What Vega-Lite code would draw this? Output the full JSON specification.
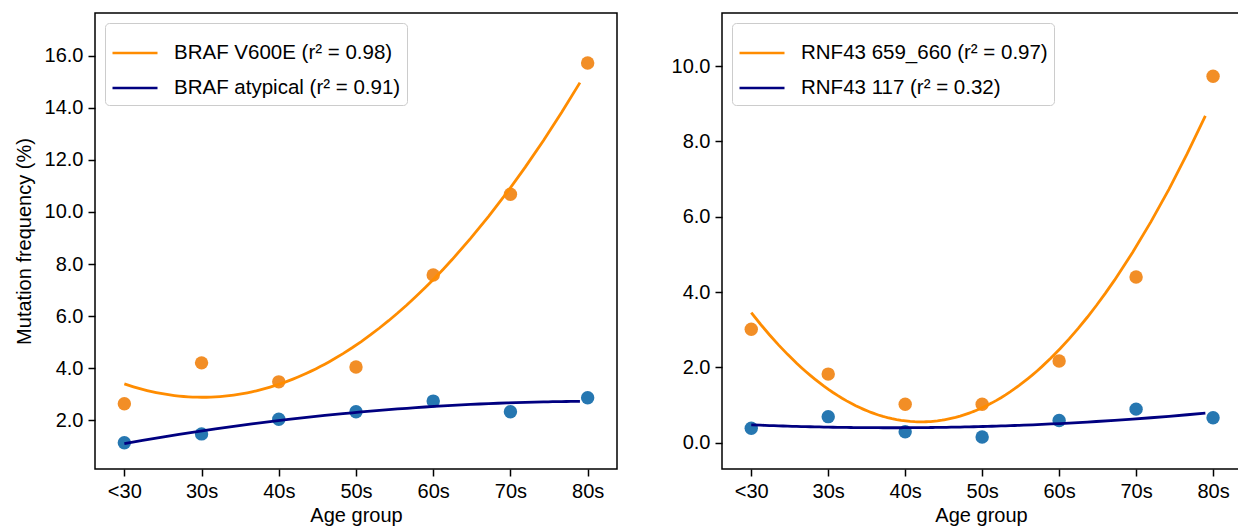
{
  "$schema": "https://vega.github.io/schema/vega-lite/v6.json",
  "padding": {"left": 13, "top": 12, "right": 0, "bottom": 0},
  "background": "white",
  "spacing": 52,
  "config": {
    "font": "Liberation Sans",
    "view": {"stroke": "black", "strokeWidth": 1.5},
    "axis": {
      "grid": false, "domain": false, "tickColor": "black", "tickWidth": 1.5, "tickSize": 7,
      "labelFontSize": 20, "labelColor": "black", "labelPadding": 5,
      "titleFontSize": 20, "titleFontWeight": "normal", "titleColor": "black"
    },
    "legend": {
      "orient": "top-left", "offset": 10, "padding": 6, "strokeColor": "#cccccc", "fillColor": "white",
      "cornerRadius": 4, "symbolType": "stroke", "symbolSize": 2025, "symbolStrokeWidth": 2.5,
      "labelFontSize": 20.5, "labelColor": "black", "labelLimit": 600, "labelOffset": 15, "rowPadding": 0,
      "title": null
    }
  },
  "datasets": {
    "braf": [
      {"age": "<30", "x": 0, "series": "BRAF V600E (r² = 0.98)", "freq": 2.63},
      {"age": "30s", "x": 1, "series": "BRAF V600E (r² = 0.98)", "freq": 4.2},
      {"age": "40s", "x": 2, "series": "BRAF V600E (r² = 0.98)", "freq": 3.47},
      {"age": "50s", "x": 3, "series": "BRAF V600E (r² = 0.98)", "freq": 4.04},
      {"age": "60s", "x": 4, "series": "BRAF V600E (r² = 0.98)", "freq": 7.58},
      {"age": "70s", "x": 5, "series": "BRAF V600E (r² = 0.98)", "freq": 10.68},
      {"age": "80s", "x": 6, "series": "BRAF V600E (r² = 0.98)", "freq": 15.73},
      {"age": "<30", "x": 0, "series": "BRAF atypical (r² = 0.91)", "freq": 1.13},
      {"age": "30s", "x": 1, "series": "BRAF atypical (r² = 0.91)", "freq": 1.47},
      {"age": "40s", "x": 2, "series": "BRAF atypical (r² = 0.91)", "freq": 2.03},
      {"age": "50s", "x": 3, "series": "BRAF atypical (r² = 0.91)", "freq": 2.32},
      {"age": "60s", "x": 4, "series": "BRAF atypical (r² = 0.91)", "freq": 2.73},
      {"age": "70s", "x": 5, "series": "BRAF atypical (r² = 0.91)", "freq": 2.32},
      {"age": "80s", "x": 6, "series": "BRAF atypical (r² = 0.91)", "freq": 2.86}
    ],
    "rnf43": [
      {"age": "<30", "x": 0, "series": "RNF43 659_660 (r² = 0.97)", "freq": 3.01},
      {"age": "30s", "x": 1, "series": "RNF43 659_660 (r² = 0.97)", "freq": 1.82},
      {"age": "40s", "x": 2, "series": "RNF43 659_660 (r² = 0.97)", "freq": 1.02},
      {"age": "50s", "x": 3, "series": "RNF43 659_660 (r² = 0.97)", "freq": 1.02},
      {"age": "60s", "x": 4, "series": "RNF43 659_660 (r² = 0.97)", "freq": 2.17},
      {"age": "70s", "x": 5, "series": "RNF43 659_660 (r² = 0.97)", "freq": 4.4},
      {"age": "80s", "x": 6, "series": "RNF43 659_660 (r² = 0.97)", "freq": 9.73},
      {"age": "<30", "x": 0, "series": "RNF43 117 (r² = 0.32)", "freq": 0.38},
      {"age": "30s", "x": 1, "series": "RNF43 117 (r² = 0.32)", "freq": 0.69},
      {"age": "40s", "x": 2, "series": "RNF43 117 (r² = 0.32)", "freq": 0.29},
      {"age": "50s", "x": 3, "series": "RNF43 117 (r² = 0.32)", "freq": 0.15},
      {"age": "60s", "x": 4, "series": "RNF43 117 (r² = 0.32)", "freq": 0.59},
      {"age": "70s", "x": 5, "series": "RNF43 117 (r² = 0.32)", "freq": 0.89},
      {"age": "80s", "x": 6, "series": "RNF43 117 (r² = 0.32)", "freq": 0.66}
    ]
  },
  "hconcat": [
    {
      "width": 522, "height": 456,
      "data": {"name": "braf"},
      "encoding": {
        "x": {"field": "x", "type": "quantitative", "title": "Age group",
              "scale": {"domain": [-0.38, 6.38], "nice": false, "zero": false},
              "axis": {"values": [0, 1, 2, 3, 4, 5, 6], "labelExpr": "['<30','30s','40s','50s','60s','70s','80s'][datum.value]"}},
        "y": {"field": "freq", "type": "quantitative", "title": "Mutation frequency (%)",
              "scale": {"domain": [0.12, 17.65], "nice": false, "zero": false},
              "axis": {"values": [2, 4, 6, 8, 10, 12, 14, 16], "format": ".1f", "titlePadding": 10}}
      },
      "layer": [
        {
          "mark": {"type": "circle", "size": 180, "opacity": 1},
          "encoding": {
            "color": {"field": "series", "type": "nominal",
                      "scale": {"domain": ["BRAF V600E (r² = 0.98)", "BRAF atypical (r² = 0.91)"], "range": ["#f28e26", "#2677b1"]},
                      "legend": null}
          }
        },
        {
          "transform": [{"regression": "freq", "on": "x", "groupby": ["series"], "method": "poly", "order": 2, "extent": [0, 5.9]}],
          "mark": {"type": "line", "strokeWidth": 2.8},
          "encoding": {
            "color": {"field": "series", "type": "nominal",
                      "scale": {"domain": ["BRAF V600E (r² = 0.98)", "BRAF atypical (r² = 0.91)"], "range": ["#ff8c00", "#000080"]}}
          }
        }
      ],
      "resolve": {"scale": {"color": "independent"}}
    },
    {
      "width": 518, "height": 456,
      "data": {"name": "rnf43"},
      "encoding": {
        "x": {"field": "x", "type": "quantitative", "title": "Age group",
              "scale": {"domain": [-0.38, 6.35], "nice": false, "zero": false},
              "axis": {"values": [0, 1, 2, 3, 4, 5, 6], "labelExpr": "['<30','30s','40s','50s','60s','70s','80s'][datum.value]"}},
        "y": {"field": "freq", "type": "quantitative", "title": null,
              "scale": {"domain": [-0.7, 11.41], "nice": false, "zero": false},
              "axis": {"values": [0, 2, 4, 6, 8, 10], "format": ".1f"}}
      },
      "layer": [
        {
          "mark": {"type": "circle", "size": 180, "opacity": 1},
          "encoding": {
            "color": {"field": "series", "type": "nominal",
                      "scale": {"domain": ["RNF43 659_660 (r² = 0.97)", "RNF43 117 (r² = 0.32)"], "range": ["#f28e26", "#2677b1"]},
                      "legend": null}
          }
        },
        {
          "transform": [{"regression": "freq", "on": "x", "groupby": ["series"], "method": "poly", "order": 2, "extent": [0, 5.9]}],
          "mark": {"type": "line", "strokeWidth": 2.8},
          "encoding": {
            "color": {"field": "series", "type": "nominal",
                      "scale": {"domain": ["RNF43 659_660 (r² = 0.97)", "RNF43 117 (r² = 0.32)"], "range": ["#ff8c00", "#000080"]}}
          }
        }
      ],
      "resolve": {"scale": {"color": "independent"}}
    }
  ]
}
